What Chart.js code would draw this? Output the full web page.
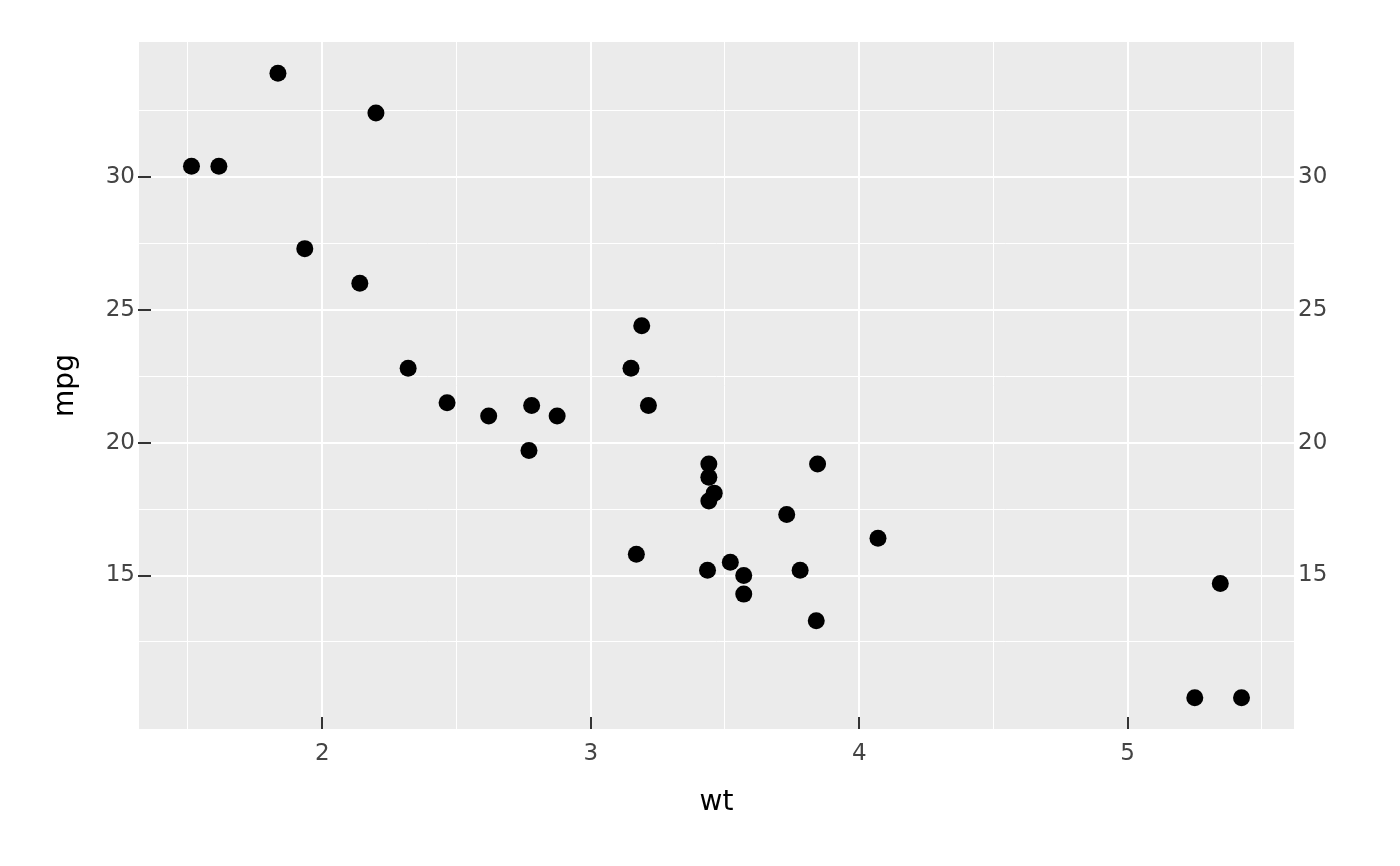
<!DOCTYPE html>
<html>
<head>
<meta charset="utf-8">
<script src="https://cdn.jsdelivr.net/npm/chart.js@4/dist/chart.umd.min.js"></script>
<style>
  html, body { margin: 0; padding: 0; background: #ffffff; }
  canvas { display: block; }
</style>
</head>
<body>
<canvas id="mtcarsChart" width="1400" height="866"></canvas>
<script>
// mtcars: weight (1000 lbs) vs miles per gallon
var wt = [2.620, 2.875, 2.320, 3.215, 3.440, 3.460, 3.570, 3.190, 3.150, 3.440,
          3.440, 4.070, 3.730, 3.780, 5.250, 5.424, 5.345, 2.200, 1.615, 1.835,
          2.465, 3.520, 3.435, 3.840, 3.845, 1.935, 2.140, 1.513, 3.170, 2.770,
          3.570, 2.780];
var mpg = [21.0, 21.0, 22.8, 21.4, 18.7, 18.1, 14.3, 24.4, 22.8, 19.2,
           17.8, 16.4, 17.3, 15.2, 10.4, 10.4, 14.7, 32.4, 30.4, 33.9,
           21.5, 15.5, 15.2, 13.3, 19.2, 27.3, 26.0, 30.4, 15.8, 19.7,
           15.0, 21.4];

var xMajor = [2, 3, 4, 5];
var xMinor = [1.5, 2.5, 3.5, 4.5, 5.5];
var yMajor = [15, 20, 25, 30];
var yMinor = [12.5, 17.5, 22.5, 27.5, 32.5];

var xLimits = [1.3175, 5.6195];
var yLimits = [9.225, 35.075];

var points = [];
for (var i = 0; i < wt.length; i++) {
    points.push({ x: wt[i], y: mpg[i] });
}

function isMajor(list, v) {
    for (var i = 0; i < list.length; i++) {
        if (Math.abs(list[i] - v) < 1e-9) return true;
    }
    return false;
}

function tickList(values) {
    return values.slice().sort(function (a, b) { return a - b; })
        .map(function (v) { return { value: v }; });
}

var panelPlugin = {
    id: 'panel',
    beforeDraw: function (chart) {
        var a = chart.chartArea, ctx = chart.ctx;
        ctx.save();
        ctx.fillStyle = '#EBEBEB';
        ctx.fillRect(a.left, a.top, a.right - a.left, a.bottom - a.top);
        ctx.restore();
    },
    afterDraw: function (chart) {
        var a = chart.chartArea, ctx = chart.ctx;
        var xs = chart.scales.x, ys = chart.scales.y;
        ctx.save();
        // inward tick marks
        ctx.strokeStyle = '#333333';
        ctx.lineWidth = 2;
        ctx.beginPath();
        xMajor.forEach(function (v) {
            var px = Math.round(xs.getPixelForValue(v));
            ctx.moveTo(px, a.bottom);
            ctx.lineTo(px, a.bottom - 12);
        });
        yMajor.forEach(function (v) {
            var py = Math.round(ys.getPixelForValue(v));
            ctx.moveTo(a.left - 1, py);
            ctx.lineTo(a.left + 12, py);
        });
        ctx.stroke();

        // axis titles
        ctx.fillStyle = '#000000';
        ctx.font = '28px "DejaVu Sans"';
        ctx.textAlign = 'center';
        ctx.textBaseline = 'middle';
        ctx.fillText('wt', (a.left + a.right) / 2, 803);
        ctx.translate(66, (a.top + a.bottom) / 2);
        ctx.rotate(-Math.PI / 2);
        ctx.fillText('mpg', 0, 0);
        ctx.restore();
    }
};

var ctx = document.getElementById('mtcarsChart').getContext('2d');
var chart = new Chart(ctx, {
    type: 'scatter',
    data: {
        datasets: [{
            label: 'mpg',
            data: points,
            backgroundColor: '#000000',
            borderWidth: 0,
            pointRadius: 8.5,
            pointHoverRadius: 8.5
        }]
    },
    options: {
        responsive: false,
        animation: false,
        layout: { padding: { top: 42, left: 0, right: 0, bottom: 0 } },
        plugins: {
            legend: { display: false },
            tooltip: { enabled: false }
        },
        scales: {
            x: {
                type: 'linear',
                position: 'bottom',
                min: xLimits[0],
                max: xLimits[1],
                border: { display: false },
                afterBuildTicks: function (s) { s.ticks = tickList(xMajor.concat(xMinor)); },
                afterFit: function (s) { s.height = 137; },
                grid: {
                    drawTicks: false,
                    color: '#FFFFFF',
                    lineWidth: function (c) { return isMajor(xMajor, c.tick.value) ? 2 : 1; }
                },
                ticks: {
                    autoSkip: false,
                    maxRotation: 0,
                    padding: 11,
                    color: '#444444',
                    font: { family: 'DejaVu Sans', size: 23 },
                    callback: function (v) { return isMajor(xMajor, v) ? String(v) : ''; }
                }
            },
            y: {
                type: 'linear',
                position: 'left',
                min: yLimits[0],
                max: yLimits[1],
                border: { display: false },
                afterBuildTicks: function (s) { s.ticks = tickList(yMajor.concat(yMinor)); },
                afterFit: function (s) { s.width = 139; },
                grid: {
                    drawTicks: false,
                    color: '#FFFFFF',
                    lineWidth: function (c) { return isMajor(yMajor, c.tick.value) ? 2 : 1; }
                },
                ticks: {
                    autoSkip: false,
                    padding: 4,
                    color: '#444444',
                    font: { family: 'DejaVu Sans', size: 23 },
                    callback: function (v) { return isMajor(yMajor, v) ? String(v) : ''; }
                }
            },
            y2: {
                type: 'linear',
                position: 'right',
                min: yLimits[0],
                max: yLimits[1],
                border: { display: false },
                afterBuildTicks: function (s) { s.ticks = tickList(yMajor); },
                afterFit: function (s) { s.width = 106; },
                grid: { display: false, drawTicks: false },
                ticks: {
                    autoSkip: false,
                    padding: 4,
                    color: '#444444',
                    font: { family: 'DejaVu Sans', size: 23 },
                    callback: function (v) { return String(v); }
                }
            }
        }
    },
    plugins: [panelPlugin]
});
</script>
</body>
</html>
